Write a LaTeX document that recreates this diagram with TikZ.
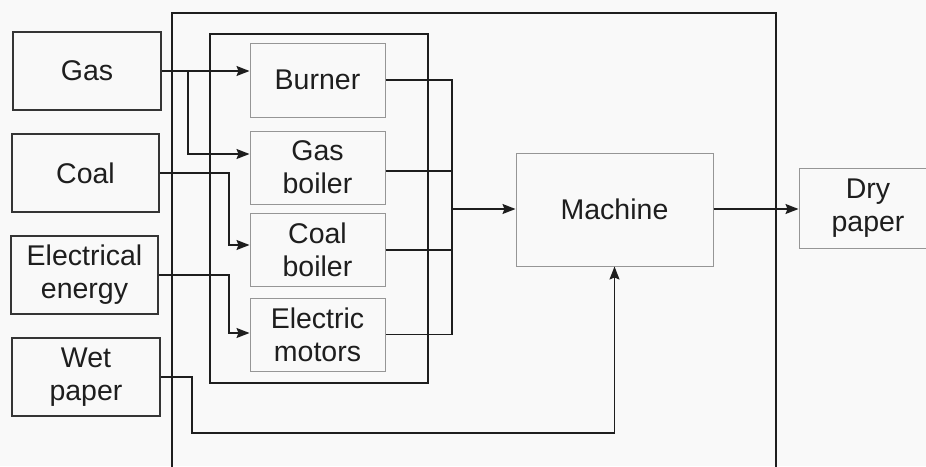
\documentclass[tikz,border=0pt]{standalone}
\usepackage{fontspec}
\setmainfont{Liberation Sans}
\usetikzlibrary{arrows.meta}
\definecolor{bg}{RGB}{249,249,249}
\definecolor{ink}{RGB}{30,30,30}
\definecolor{thin}{RGB}{150,150,150}
\tikzset{
  inbox/.style={draw=ink!90, line width=2pt, fill=bg, align=center, text=ink, inner sep=0pt},
  procbox/.style={draw=thin, line width=1pt, fill=bg, align=center, text=ink, inner sep=0pt},
  frame/.style={draw=ink, line width=2.5pt},
  conn/.style={draw=ink, line width=1.5pt},
  arr/.style={conn, -{Stealth[length=13pt,width=10pt,inset=2pt]}}
}
\begin{document}
\begin{tikzpicture}[x=1pt,y=-1pt,font=\fontsize{28.5}{33}\selectfont]
\useasboundingbox (0,0) rectangle (926,466);
\clip (0,0) rectangle (926,466);
\fill[bg] (0,0) rectangle (926,466);
% frames
\draw[frame] (172,500) -- (172,13) -- (776,13) -- (776,500);
\draw[frame] (210,34) rectangle (428,383);
% inputs
\node[inbox, minimum width=148, minimum height=78] (gas) at (87,71) {Gas};
\node[inbox, minimum width=147, minimum height=78] (coal) at (85.5,173) {Coal};
\node[inbox, minimum width=147, minimum height=78] (elec) at (84.5,275) {Electrical\\energy};
\node[inbox, minimum width=148, minimum height=78] (wet) at (86,377) {Wet\\paper};
% processes
\node[procbox, minimum width=135, minimum height=74] (burner) at (317.5,80) {Burner};
\node[procbox, minimum width=135, minimum height=73] (gb) at (317.5,167.5) {Gas\\boiler};
\node[procbox, minimum width=135, minimum height=73] (cb) at (317.5,250) {Coal\\boiler};
\node[procbox, minimum width=135, minimum height=73] (em) at (317.5,334.5) {Electric\\motors};
\node[procbox, minimum width=197, minimum height=113] (mach) at (614.5,209.5) {Machine};
\node[procbox, minimum width=138, minimum height=80] (dry) at (868,208) {Dry\\paper};
% helper coordinates
\coordinate (gx) at (188,0);
\coordinate (cx) at (229,0);
\coordinate (bus) at (452,209);
\coordinate (w1) at (192,433);
% input connectors
\draw[arr] (gas.east) -- ([yshift=9pt]burner.west);
\draw[arr] (gas.east -| gx) |- ([yshift=13.5pt]gb.west);
\draw[arr] (coal.east) -- (coal.east -| cx) |- ([yshift=5pt]cb.west);
\draw[arr] (elec.east) -- (elec.east -| cx) |- ([yshift=1.5pt]em.west);
\draw[arr] (wet.east) -| (w1) -| (mach.south);
% outputs to bus
\draw[conn] (burner.east) -- (burner.east -| bus) -- (em.east -| bus) -- (em.east);
\draw[conn] ([yshift=-3.5pt]gb.east) -- ([yshift=-3.5pt]gb.east -| bus);
\draw[conn] (cb.east) -- (cb.east -| bus);
\draw[arr] (bus) -- (mach.west |- bus);
\draw[arr] (mach.east |- bus) -- (dry.west |- bus);
\end{tikzpicture}
\end{document}
